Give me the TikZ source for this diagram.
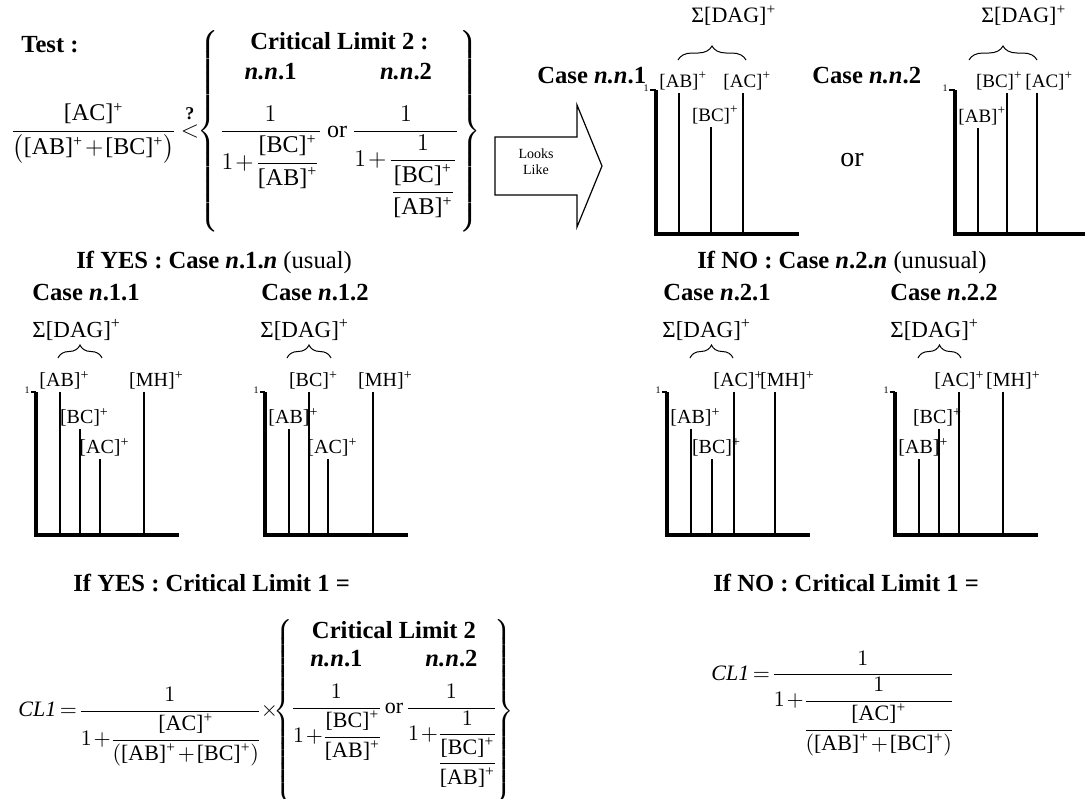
\RequirePackage{fix-cm}
\documentclass[tikz,border=0pt]{standalone}
\usepackage{amsmath}
\usepackage{fontspec}
\setmainfont{Liberation Serif}
\usetikzlibrary{decorations.pathreplacing}

\newcommand{\ionm}[1]{\text{[#1]\textsuperscript{+}}}
\newcommand{\ionl}[1]{[#1]\rlap{\textsuperscript{+}}}
\newcommand{\cltext}[1]{\text{\fontsize{12.3}{14}\selectfont\bfseries #1}}
\newcommand{\ortext}{\text{\hspace{2.5pt}or\hspace{2.5pt}}}
\medmuskip=1.5mu plus 1mu minus 1mu
\thickmuskip=3mu plus 1mu

\begin{document}
\begin{tikzpicture}[
    x=0.5pt, y=-0.5pt,
    heading/.style={anchor=base west, inner sep=0pt, font=\fontsize{12.3}{14}\selectfont\bfseries},
    formula/.style={anchor=base west, inner sep=0pt, font=\fontsize{11}{13}\selectfont},
    sigma/.style={anchor=base west, inner sep=0pt, font=\fontsize{11.5}{14}\selectfont},
    lab/.style={anchor=south, inner sep=1pt, font=\fontsize{10}{12}\selectfont},
    toplab/.style={lab, font=\fontsize{9.5}{11}\selectfont},
    one/.style={anchor=base east, inner sep=0.5pt, font=\fontsize{5}{6}\selectfont},
    axisline/.style={line width=1.6pt},
    peak/.style={line width=0.7pt},
    brc/.style={decorate, decoration={brace, amplitude=6.5pt}, line width=0.5pt}
]
\useasboundingbox (0,0) rectangle (1086,798);

% test and critical limit 2
\node[heading] (test) at (21,52) {Test :};
\node[formula, font=\fontsize{12}{14}\selectfont] (testeq) at (10,137) {$\dfrac{\ionm{AC}}{\bigl(\ionm{AB}+\ionm{BC}\bigr)}\overset{\text{\fontsize{9}{10}\selectfont\bfseries ?}}{<}\mkern-4mu\left\{\begin{array}{@{}c@{}c@{}c@{}}
  \multicolumn{3}{c}{\cltext{Critical Limit 2 :}}\\[1pt]
  \cltext{\textit{n.n}.1} & & \cltext{\textit{n.n}.2}\\[9pt]
  \dfrac{1}{1+\dfrac{\ionm{BC}}{\ionm{AB}}} & \ortext & \dfrac{1}{1+\dfrac{1}{\dfrac{\ionm{BC}}{\ionm{AB}}}}\rule[-47pt]{0pt}{47pt}
\end{array}\right\}$};

% looks like arrow
\draw[line width=0.6pt] (495,137) -- (577,137) -- (577,105) -- (602,166) -- (577,227) -- (577,195) -- (495,195) -- cycle;
\node[align=center, font=\fontsize{7}{8}\selectfont] (looks) at (536,162) {Looks\\Like};

% case n.n.1
\node[heading] (casenn1) at (537,83) {Case \textit{n.n}.1};
\node[sigma, font=\fontsize{11}{13}\selectfont] (dagnn1) at (691,22) {Σ[DAG]\textsuperscript{+}};
\draw[brc, decoration={amplitude=7pt}] (678,60) -- (746,60);
\draw[axisline] (656,90) -- (656,234) -- (799,234);
\draw[peak] (650,90) -- (656,90);
\node[one] (onenn1) at (650,91) {1};
\draw[peak] (679,234) -- (679,93) node[toplab] (abnn1) {\ionl{AB}};
\draw[peak] (711,234) -- (711,127) node[toplab] (bcnn1) {\ionl{BC}};
\draw[peak] (743,234) -- (743,93) node[toplab] (acnn1) {\ionl{AC}};

\node[anchor=base west, inner sep=0pt, font=\fontsize{14}{16}\selectfont] (ortop) at (840,166) {or};

% case n.n.2
\node[heading] (casenn2) at (812,83) {Case \textit{n.n}.2};
\node[sigma, font=\fontsize{11}{13}\selectfont] (dagnn2) at (981,22) {Σ[DAG]\textsuperscript{+}};
\draw[brc, decoration={amplitude=7pt}] (969,60) -- (1037,60);
\draw[axisline] (955,90) -- (955,234) -- (1085,234);
\draw[peak] (949,90) -- (955,90);
\node[one] (onenn2) at (949,91) {1};
\draw[peak] (978,234) -- (978,128) node[toplab] (abnn2) {\ionl{AB}};
\draw[peak] (1007,234) -- (1007,93) node[toplab, xshift=-6pt] (bcnn2) {\ionl{BC}};
\draw[peak] (1037,234) -- (1037,93) node[toplab, xshift=4pt] (acnn2) {\ionl{AC}};

% if yes / if no
\node[heading] (yes) at (76,268) {If YES : Case \textit{n}.1.\textit{n} \mdseries(usual)};
\node[heading] (no) at (697,268) {If NO : Case \textit{n}.2.\textit{n} \mdseries(unusual)};

% case n.1.1
\node[heading] (case11) at (32,300) {Case \textit{n}.1.1};
\node[sigma] (dag11) at (32,337) {Σ[DAG]\textsuperscript{+}};
\draw[brc] (58,358) -- (102,358);
\draw[axisline] (36,392) -- (36,535) -- (179,535);
\draw[peak] (31,392) -- (36,392);
\node[one] (one11) at (31,393) {1};
\draw[peak] (60,535) -- (60,392) node[lab] (ab11) {\ionl{AB}};
\draw[peak] (80,535) -- (80,429) node[lab] (bc11) {\ionl{BC}};
\draw[peak] (100,535) -- (100,459) node[lab] (ac11) {\ionl{AC}};
\draw[peak] (144,535) -- (144,392) node[lab, xshift=4pt] (mh11) {\ionl{MH}};

% case n.1.2
\node[heading] (case12) at (261,300) {Case \textit{n}.1.2};
\node[sigma] (dag12) at (260,337) {Σ[DAG]\textsuperscript{+}};
\draw[brc] (287,358) -- (331,358);
\draw[axisline] (265,392) -- (265,535) -- (408,535);
\draw[peak] (260,392) -- (265,392);
\node[one] (one12) at (260,393) {1};
\draw[peak] (289,535) -- (289,429) node[lab] (ab12) {\ionl{AB}};
\draw[peak] (309,535) -- (309,392) node[lab] (bc12) {\ionl{BC}};
\draw[peak] (328,535) -- (328,459) node[lab] (ac12) {\ionl{AC}};
\draw[peak] (373,535) -- (373,392) node[lab, xshift=4pt] (mh12) {\ionl{MH}};

% case n.2.1
\node[heading] (case21) at (663,300) {Case \textit{n}.2.1};
\node[sigma] (dag21) at (662,337) {Σ[DAG]\textsuperscript{+}};
\draw[brc] (690,358) -- (733,358);
\draw[axisline] (667,392) -- (667,535) -- (810,535);
\draw[peak] (662,392) -- (667,392);
\node[one] (one21) at (662,393) {1};
\draw[peak] (691,535) -- (691,429) node[lab] (ab21) {\ionl{AB}};
\draw[peak] (712,535) -- (712,459) node[lab] (bc21) {\ionl{BC}};
\draw[peak] (734,535) -- (734,392) node[lab] (ac21) {\ionl{AC}};
\draw[peak] (775,535) -- (775,392) node[lab, xshift=4pt] (mh21) {\ionl{MH}};

% case n.2.2
\node[heading] (case22) at (890,300) {Case \textit{n}.2.2};
\node[sigma] (dag22) at (890,337) {Σ[DAG]\textsuperscript{+}};
\draw[brc] (918,358) -- (961,358);
\draw[axisline] (895,392) -- (895,535) -- (1038,535);
\draw[peak] (890,392) -- (895,392);
\node[one] (one22) at (890,393) {1};
\draw[peak] (919,535) -- (919,459) node[lab] (ab22) {\ionl{AB}};
\draw[peak] (939,535) -- (939,429) node[lab, xshift=-3pt] (bc22) {\ionl{BC}};
\draw[peak] (959,535) -- (959,392) node[lab, xshift=-2pt] (ac22) {\ionl{AC}};
\draw[peak] (1003,535) -- (1003,392) node[lab, xshift=3pt] (mh22) {\ionl{MH}};

% critical limit 1
\node[heading] (yescl1) at (73,591) {If YES : Critical Limit 1 =};
\node[formula] (yeseq) at (18,716.5) {\nulldelimiterspace=0pt$\textit{CL1} = \dfrac{1}{1+\dfrac{\ionm{AC}}{(\ionm{AB}+\ionm{BC})}}\times\mkern-5mu\left\{\begin{array}{@{}c@{}c@{}c@{}}
  \multicolumn{3}{c}{\cltext{Critical Limit 2}}\\[1pt]
  \cltext{\textit{n.n}.1} & & \cltext{\textit{n.n}.2}\\[5pt]
  \dfrac{1}{1+\dfrac{\ionm{BC}}{\ionm{AB}}} & \ortext & \dfrac{1}{1+\dfrac{1}{\dfrac{\ionm{BC}}{\ionm{AB}}}}\rule[-44pt]{0pt}{44pt}
\end{array}\right\}$};

\node[heading] (nocl1) at (713,591) {If NO : Critical Limit 1 =};
\node[formula] (noeq) at (711,680) {\nulldelimiterspace=0pt$\textit{CL1} = \dfrac{1}{1+\dfrac{1}{\dfrac{\ionm{AC}}{(\ionm{AB}+\ionm{BC})}}}$};
\end{tikzpicture}
\end{document}
